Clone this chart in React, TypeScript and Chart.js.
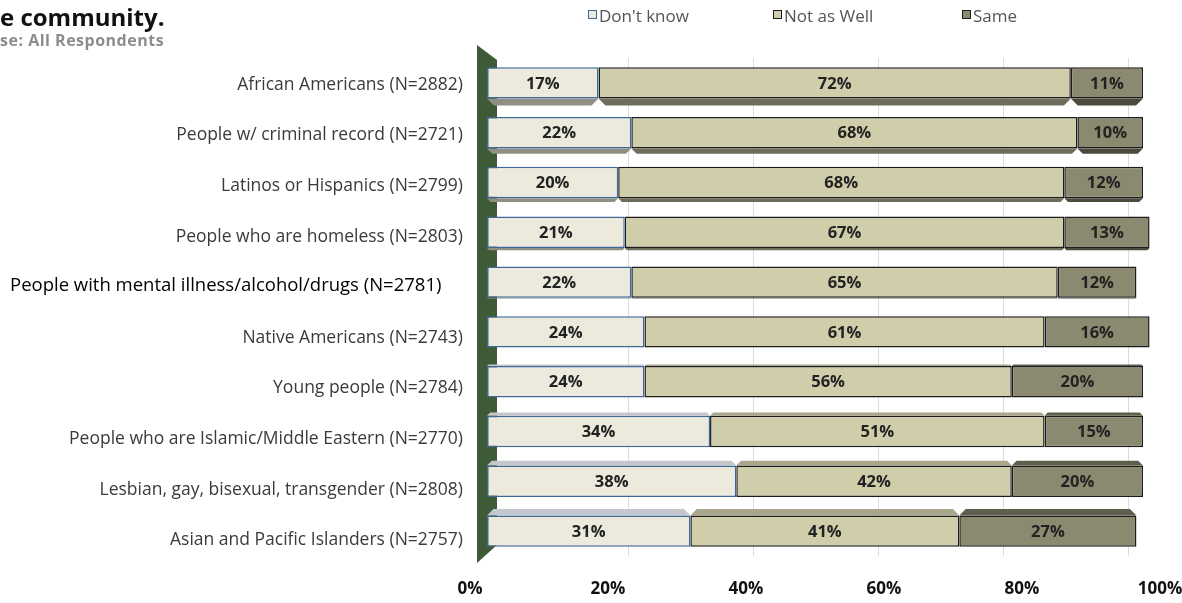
import { useEffect, useRef } from 'react';
import { Chart, registerables } from 'chart.js';

Chart.register(...registerables);

const categories = [
  'African Americans (N=2882)',
  'People w/ criminal record (N=2721)',
  'Latinos or Hispanics (N=2799)',
  'People who are homeless (N=2803)',
  'People with mental illness/alcohol/drugs (N=2781)',
  'Native Americans (N=2743)',
  'Young people (N=2784)',
  'People who are Islamic/Middle Eastern (N=2770)',
  'Lesbian, gay, bisexual, transgender (N=2808)',
  'Asian and Pacific Islanders (N=2757)',
];
const dontKnow = [17, 22, 20, 21, 22, 24, 24, 34, 38, 31];
const notAsWell = [72, 68, 68, 67, 65, 61, 56, 51, 42, 41];
const same = [11, 10, 12, 13, 12, 16, 20, 15, 20, 27];
const seriesNames = ["Don't know", 'Not as Well', 'Same'];
const tickValues = [0, 20, 40, 60, 80, 100];
const gridValues = [20, 40, 60, 80, 100];
const titleText = 'e community.';
const subtitleText = 'se: All Respondents';
const offsetLabelIndex = 4;

const FONT = '"Open Sans", "DejaVu Sans", sans-serif';

const fills = ['#ebeadd', '#d0cdab', '#8b8a70'];
const borders = ['#3f6797', '#1c1c1c', '#1c1c1c'];
const bottomFaces = ['#8f8f86', '#6f6d5a', '#4b4a3d'];
const topFaces = ['#c4c8cc', '#a9a68b', '#5f5e4c'];

const decorPlugin = {
  id: 'decor',
  beforeDatasetsDraw(chart: any) {
    const { ctx, chartArea } = chart;
    const l = chartArea.left;
    ctx.save();
    ctx.fillStyle = '#3e5a37';
    ctx.beginPath();
    ctx.moveTo(l + 7, chartArea.top - 13);
    ctx.lineTo(l + 27, chartArea.top + 2);
    ctx.lineTo(l + 27, chartArea.bottom - 11);
    ctx.lineTo(l + 7, chartArea.bottom + 7);
    ctx.closePath();
    ctx.fill();
    chart.data.datasets.forEach((ds: any, di: number) => {
      const meta = chart.getDatasetMeta(di);
      meta.data.forEach((el: any, i: number) => {
        const left = Math.min(el.x, el.base);
        const right = Math.max(el.x, el.base);
        const top = el.y - el.height / 2;
        const bottom = el.y + el.height / 2;
        const dBottom = Math.max(0, 7 - i * 1.6);
        const dTop = Math.max(0, (i - 5) * 1.6);
        if (dBottom > 0) {
          ctx.fillStyle = bottomFaces[di];
          ctx.beginPath();
          ctx.moveTo(left, bottom);
          ctx.lineTo(right, bottom);
          ctx.lineTo(right - dBottom, bottom + dBottom);
          ctx.lineTo(left + dBottom, bottom + dBottom);
          ctx.closePath();
          ctx.fill();
        }
        if (dTop > 0) {
          ctx.fillStyle = topFaces[di];
          ctx.beginPath();
          ctx.moveTo(left, top);
          ctx.lineTo(right, top);
          ctx.lineTo(right - dTop, top - dTop);
          ctx.lineTo(left + dTop, top - dTop);
          ctx.closePath();
          ctx.fill();
        }
      });
    });
    ctx.restore();
  },
  afterDatasetsDraw(chart: any) {
    const { ctx } = chart;
    ctx.save();
    ctx.font = `bold 16.5px ${FONT}`;
    ctx.fillStyle = '#222';
    ctx.textAlign = 'center';
    ctx.textBaseline = 'middle';
    chart.data.datasets.forEach((ds: any, di: number) => {
      const meta = chart.getDatasetMeta(di);
      meta.data.forEach((el: any, i: number) => {
        const cx = (el.x + el.base) / 2;
        ctx.fillText(`${ds.data[i]}%`, cx, el.y + 1);
      });
    });
    ctx.restore();
  },
  afterDraw(chart: any) {
    const { ctx, chartArea } = chart;
    const yScale = chart.scales.y;
    ctx.save();
    ctx.textBaseline = 'middle';
    categories.forEach((c, i) => {
      const y = yScale.getPixelForValue(i) + 2 + i * 0.8;
      if (i === offsetLabelIndex) {
        ctx.font = `18.5px ${FONT}`;
        ctx.fillStyle = '#000';
        ctx.textAlign = 'left';
        ctx.fillText(c, 10, y - 2);
      } else {
        ctx.font = `17.5px ${FONT}`;
        ctx.fillStyle = '#3a3a3a';
        ctx.textAlign = 'right';
        ctx.fillText(c, chartArea.left - 7, y);
      }
    });
    ctx.textAlign = 'left';
    ctx.textBaseline = 'alphabetic';
    ctx.fillStyle = '#111';
    ctx.font = `bold 24px ${FONT}`;
    ctx.fillText(titleText, 0, 26);
    ctx.fillStyle = '#8c8c8c';
    ctx.font = `bold 16px ${FONT}`;
    (ctx as any).letterSpacing = '0.5px';
    ctx.fillText(subtitleText, 0, 46);
    (ctx as any).letterSpacing = '0px';
    const legendX = [588, 773, 962];
    ctx.font = `17px ${FONT}`;
    ctx.textBaseline = 'middle';
    seriesNames.forEach((n, i) => {
      const x = legendX[i];
      ctx.fillStyle = fills[i];
      ctx.fillRect(x, 10, 9, 9);
      ctx.strokeStyle = borders[i];
      ctx.lineWidth = 1;
      ctx.strokeRect(x + 0.5, 10.5, 8, 8);
      ctx.fillStyle = '#555';
      ctx.fillText(n, x + 11, 17);
    });
    ctx.restore();
  },
};

export default function App() {
  const ref = useRef<HTMLCanvasElement>(null);
  useEffect(() => {
    document.body.style.margin = '0';
    const chart = new Chart(ref.current as HTMLCanvasElement, {
      type: 'bar',
      data: {
        labels: categories,
        datasets: [dontKnow, notAsWell, same].map((d, i) => ({
          label: seriesNames[i],
          data: d,
          backgroundColor: fills[i],
          borderColor: borders[i],
          borderWidth: 1.5,
          borderSkipped: false,
          xAxisID: 'x',
          yAxisID: 'y',
          categoryPercentage: 1,
          barPercentage: 0.63,
        })),
      },
      options: {
        indexAxis: 'y',
        animation: false,
        responsive: true,
        maintainAspectRatio: false,
        layout: { padding: { left: 470, right: 22, top: 58, bottom: 0 } },
        plugins: { legend: { display: false }, tooltip: { enabled: false } },
        scales: {
          x: { display: false, stacked: true, min: -2.59, max: 102.59 },
          xGrid: {
            type: 'linear',
            position: 'top',
            min: -5.28,
            max: 105.12,
            afterBuildTicks: (s: any) => {
              s.ticks = gridValues.map((v) => ({ value: v }));
            },
            afterFit: (s: any) => {
              s.height = 0;
              s.paddingLeft = 0;
              s.paddingRight = 0;
            },
            ticks: { display: false },
            border: { display: false },
            grid: { color: '#dcdcdc', drawTicks: false, lineWidth: 1 },
          },
          xTicks: {
            type: 'linear',
            position: 'bottom',
            min: 0,
            max: 100,
            afterBuildTicks: (s: any) => {
              s.ticks = tickValues.map((v) => ({ value: v }));
            },
            afterFit: (s: any) => {
              s.height = 47;
              s.paddingLeft = 0;
              s.paddingRight = 0;
            },
            border: { display: false },
            grid: { display: false, drawTicks: false },
            ticks: {
              padding: 23,
              maxRotation: 0,
              autoSkip: false,
              color: '#111',
              font: { family: FONT, size: 17, weight: 'bold' },
              callback: (v: any) => `${v}%`,
            },
          },
          y: { display: false, stacked: true },
        },
      },
      plugins: [decorPlugin],
    });
    return () => chart.destroy();
  }, []);
  return (
    <div style={{ width: 1182, height: 603, position: 'relative' }}>
      <canvas ref={ref} />
    </div>
  );
}
